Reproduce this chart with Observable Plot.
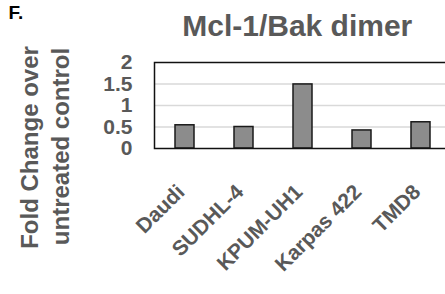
<!DOCTYPE html>
<html>
<head>
<meta charset="utf-8">
<script src="https://cdn.jsdelivr.net/npm/d3@7"></script>
<script src="https://cdn.jsdelivr.net/npm/@observablehq/plot@0.6"></script>
<style>
  html, body { margin: 0; padding: 0; background: #fff; overflow: hidden; }
  svg { max-width: none !important; display: block; }
</style>
</head>
<body>
<div id="chart"></div>
<script>
const categories = ["Daudi", "SUDHL-4", "KPUM-UH1", "Karpas 422", "TMD8"];
const values = [0.54, 0.50, 1.49, 0.42, 0.61];
const yTicks = [0, 0.5, 1, 1.5, 2];
const gridTicks = [0.5, 1, 1.5];
const title = "Mcl-1/Bak dimer";
const panelLabel = "F.";
const yLabel1 = "Fold Change over";
const yLabel2 = "untreated control";

const data = categories.map((c, i) => ({cat: c, val: values[i]}));
const font = "'Liberation Sans', Arial, sans-serif";
const gray = "#595959";

const chart = Plot.plot({
  width: 460,
  height: 294,
  marginLeft: 154,
  marginRight: 8.5,
  marginTop: 62,
  marginBottom: 146,
  style: {fontFamily: font, background: "#fff"},
  x: {domain: categories, paddingInner: 0.675, paddingOuter: 0.3375, axis: null},
  y: {domain: [0, 2], axis: null},
  marks: [
    Plot.gridY(gridTicks, {stroke: "#d9d9d9", strokeOpacity: 1, strokeWidth: 1.5}),
    Plot.barY(data, {x: "cat", y: "val", fill: "#8c8c8c", stroke: "#1a1a1a", strokeWidth: 1.5}),
    Plot.frame({stroke: "#111", strokeWidth: 1.5}),
    Plot.axisY(yTicks, {tickSize: 0, tickPadding: 22, tickFormat: d => String(d), fontSize: 21, fontWeight: "bold", fill: gray, label: null}),
    Plot.axisX({tickSize: 0, tickPadding: 40, tickRotate: -45, dx: -4, fontSize: 21, fontWeight: "bold", fill: gray, label: null}),
    Plot.text([title], {frameAnchor: "top", dx: -6, dy: -27, lineAnchor: "bottom", fontSize: 30, fontWeight: "bold", fill: gray}),
    Plot.text([panelLabel], {frameAnchor: "top-left", dx: -146, dy: -44, lineAnchor: "bottom", textAnchor: "start", fontSize: 19, fontWeight: "bold", fill: "#000"}),
    Plot.text([yLabel1], {frameAnchor: "left", dx: -117, dy: 42, rotate: -90, lineAnchor: "bottom", textAnchor: "middle", fontSize: 24, fontWeight: "bold", fill: gray}),
    Plot.text([yLabel2], {frameAnchor: "left", dx: -86, dy: 41, rotate: -90, lineAnchor: "bottom", textAnchor: "middle", fontSize: 24, fontWeight: "bold", fill: gray})
  ]
});
document.getElementById("chart").appendChild(chart);
</script>
</body>
</html>
